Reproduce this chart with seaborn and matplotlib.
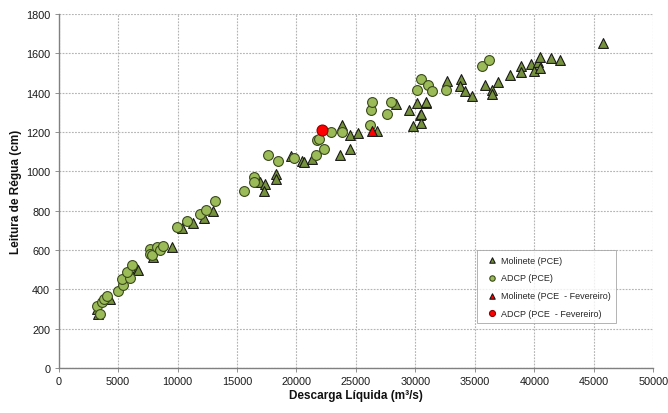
import matplotlib
matplotlib.use("Agg")
import matplotlib.pyplot as plt
import seaborn as sns
import pandas as pd

# Molinete (PCE) gaugings: discharge (m3/s) and stage reading (cm)
molinete_q = [3220, 3350, 4300, 5300, 5800, 6580, 6700, 7980, 9530,
              10370, 11300, 12190, 12950, 16910, 17330, 17250, 18310, 18310,
              19550, 20480, 20670, 21320, 23620, 24460, 23840, 24460, 25160,
              26790, 28330, 29450, 30100, 30350, 30440, 29820, 30920, 30860,
              30440, 32690, 33800, 33750, 34170, 34730, 35850, 36420, 36420,
              36900, 37930, 38860, 38860, 39700, 39930, 40260, 40480, 40480,
              41380, 42170, 45740]
molinete_h = [300, 275, 350, 430, 480, 504, 500, 563, 615,
              711, 736, 762, 796, 945, 937, 897, 987, 962,
              1078, 1050, 1045, 1064, 1081, 1115, 1237, 1182, 1196,
              1203, 1340, 1310, 1349, 1288, 1247, 1230, 1349, 1352,
              1293, 1459, 1467, 1432, 1406, 1381, 1440, 1415, 1391,
              1454, 1488, 1534, 1505, 1547, 1508, 1556, 1581, 1527,
              1576, 1564, 1653]

# ADCP (PCE) measurements
adcp_q = [3220, 3490, 3640, 3830, 4060, 5040, 5460, 5320, 6020, 5740,
          6160, 7700, 7700, 7850, 8270, 8550, 8770, 9920, 10790, 11860,
          12390, 13180, 15620, 16400, 16400, 17580, 18420, 19770, 21600,
          21740, 21880, 22300, 22860, 23840, 26170, 26230, 26310, 27580,
          27910, 30160, 30440, 31050, 31420, 32540, 35630, 36140]
adcp_h = [314, 275, 334, 351, 368, 390, 419, 453, 456, 487,
          521, 606, 580, 572, 615, 597, 618, 716, 745, 784,
          804, 849, 899, 971, 945, 1081, 1050, 1067, 1081,
          1157, 1162, 1111, 1200, 1200, 1233, 1310, 1352, 1291,
          1352, 1411, 1471, 1440, 1408, 1415, 1534, 1564]

# February campaign
molinete_fev_q = [26310]
molinete_fev_h = [1203]
adcp_fev_q = [22160]
adcp_fev_h = [1208]

x_ticks = list(range(0, 50001, 5000))
y_ticks = list(range(0, 1801, 200))

sns.set_theme(style="white")
plt.rcParams["font.family"] = ["Liberation Sans", "DejaVu Sans"]

fig = plt.figure(figsize=(6.68, 4.14), dpi=100)
ax = fig.add_axes([0.0876, 0.109, 0.8906, 0.855])

series = [
    ("Molinete (PCE)", molinete_q, molinete_h, "^", "#76923C", "#1a1a1a", 50),
    ("ADCP (PCE)", adcp_q, adcp_h, "o", "#9BBB59", "#3a4a1c", 50),
    ("Molinete (PCE  - Fevereiro)", molinete_fev_q, molinete_fev_h, "^", "#FF0000", "#1a1a1a", 50),
    ("ADCP (PCE  - Fevereiro)", adcp_fev_q, adcp_fev_h, "o", "#FF0000", "#8b0000", 62),
]

for name, q, h, mk, fc, ec, s in series:
    df = pd.DataFrame({"q": q, "h": h})
    sns.scatterplot(data=df, x="q", y="h", marker=mk, color=fc, edgecolor=ec,
                    linewidth=0.8, s=s, ax=ax, label=name, zorder=3)

ax.set_xlim(0, 50000)
ax.set_ylim(0, 1800)
ax.set_xticks(x_ticks)
ax.set_yticks(y_ticks)
ax.tick_params(axis="both", labelsize=7.8, colors="#808080", length=3,
               width=0.6, direction="out", left=True, bottom=True, pad=3)
for t in ax.get_xticklabels() + ax.get_yticklabels():
    t.set_color("#1a1a1a")

ax.grid(True, color="#b4b4b4", linestyle=(0, (1.6, 1.2)), linewidth=0.8)
ax.set_axisbelow(True)
for side in ["top", "right"]:
    ax.spines[side].set_visible(False)
for side in ["left", "bottom"]:
    ax.spines[side].set_color("#808080")
    ax.spines[side].set_linewidth(1.0)

ax.set_xlabel("Descarga Líquida (m³/s)", fontsize=8.5, fontweight="bold",
              color="#111111", labelpad=2)
ax.set_ylabel("Leitura de Régua (cm)", fontsize=8.5, fontweight="bold",
              color="#111111", labelpad=3)

leg = ax.legend(loc="lower right", bbox_to_anchor=(0.937, 0.127), fontsize=6.5,
                frameon=True, fancybox=False, edgecolor="#a0a0a0",
                markerscale=0.55, handletextpad=0.0, handlelength=2.0,
                borderpad=0.6, labelspacing=0.95, borderaxespad=0)
leg.get_frame().set_linewidth(0.7)

fig.savefig("out.png", dpi=100)
